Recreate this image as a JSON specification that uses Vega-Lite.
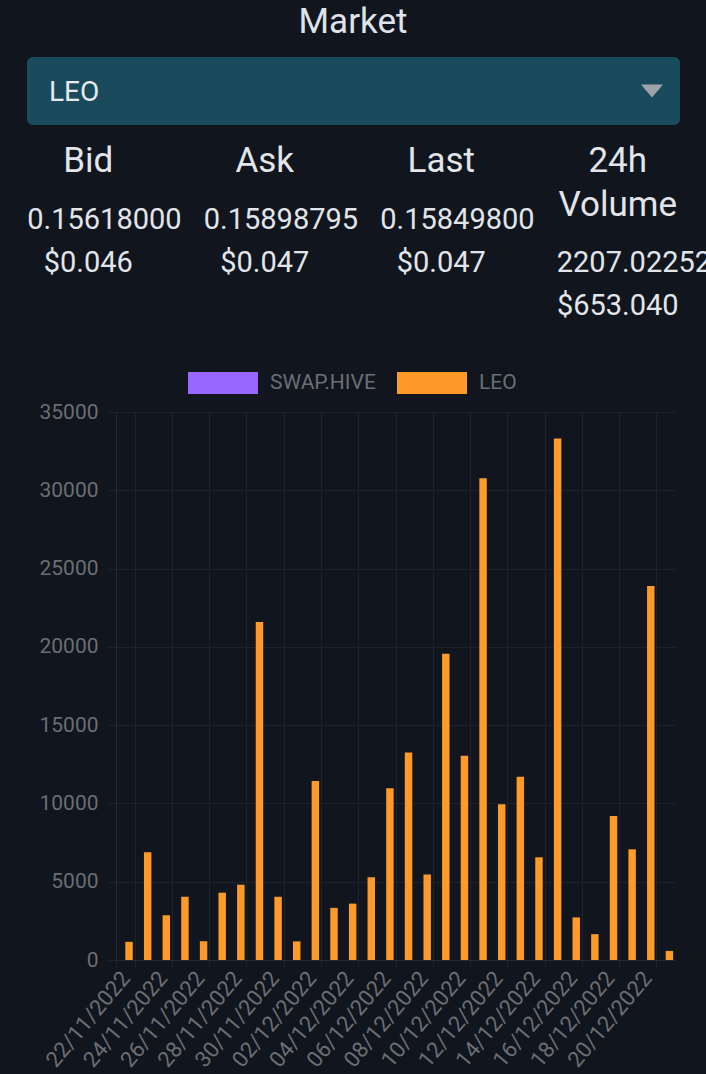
{
  "$schema": "https://vega.github.io/schema/vega-lite/v6.json",
  "width": 559,
  "height": 548,
  "autosize": {"type": "none"},
  "padding": {"left": 116, "top": 412, "right": 31, "bottom": 114},
  "background": "#10151e",
  "config": {
    "view": {"stroke": null},
    "font": "Roboto"
  },
  "datasets": {
    "market": [{"market": "LEO", "page": "Market"}],
    "stats": [
      {"col": "Bid", "header": "Bid", "headerLines": 1, "price": "0.15618000", "usd": "$0.046"},
      {"col": "Ask", "header": "Ask", "headerLines": 1, "price": "0.15898795", "usd": "$0.047"},
      {"col": "Last", "header": "Last", "headerLines": 1, "price": "0.15849800", "usd": "$0.047"},
      {"col": "Volume", "header": "24h\nVolume", "headerLines": 2, "price": "2207.02252", "usd": "$653.040"}
    ],
    "volume": [
      {"date": "22/11/2022", "token": "LEO", "volume": 1160},
      {"date": "23/11/2022", "token": "LEO", "volume": 6880},
      {"date": "24/11/2022", "token": "LEO", "volume": 2860},
      {"date": "25/11/2022", "token": "LEO", "volume": 4040},
      {"date": "26/11/2022", "token": "LEO", "volume": 1200},
      {"date": "27/11/2022", "token": "LEO", "volume": 4300},
      {"date": "28/11/2022", "token": "LEO", "volume": 4810},
      {"date": "29/11/2022", "token": "LEO", "volume": 21580},
      {"date": "30/11/2022", "token": "LEO", "volume": 4040},
      {"date": "01/12/2022", "token": "LEO", "volume": 1190},
      {"date": "02/12/2022", "token": "LEO", "volume": 11440},
      {"date": "03/12/2022", "token": "LEO", "volume": 3330},
      {"date": "04/12/2022", "token": "LEO", "volume": 3600},
      {"date": "05/12/2022", "token": "LEO", "volume": 5280},
      {"date": "06/12/2022", "token": "LEO", "volume": 10970},
      {"date": "07/12/2022", "token": "LEO", "volume": 13250},
      {"date": "08/12/2022", "token": "LEO", "volume": 5460},
      {"date": "09/12/2022", "token": "LEO", "volume": 19560},
      {"date": "10/12/2022", "token": "LEO", "volume": 13050},
      {"date": "11/12/2022", "token": "LEO", "volume": 30770},
      {"date": "12/12/2022", "token": "LEO", "volume": 9950},
      {"date": "13/12/2022", "token": "LEO", "volume": 11700},
      {"date": "14/12/2022", "token": "LEO", "volume": 6560},
      {"date": "15/12/2022", "token": "LEO", "volume": 33300},
      {"date": "16/12/2022", "token": "LEO", "volume": 2720},
      {"date": "17/12/2022", "token": "LEO", "volume": 1650},
      {"date": "18/12/2022", "token": "LEO", "volume": 9190},
      {"date": "19/12/2022", "token": "LEO", "volume": 7070},
      {"date": "20/12/2022", "token": "LEO", "volume": 23880},
      {"date": "21/12/2022", "token": "LEO", "volume": 580}
    ]
  },
  "layer": [
    {
      "data": {"name": "volume"},
      "mark": {"type": "bar"},
      "encoding": {
        "x": {
          "field": "date", "type": "ordinal", "sort": null,
          "scale": {"paddingInner": 0, "paddingOuter": 0},
          "axis": {
            "title": null,
            "values": ["22/11/2022", "24/11/2022", "26/11/2022", "28/11/2022", "30/11/2022", "02/12/2022", "04/12/2022", "06/12/2022", "08/12/2022", "10/12/2022", "12/12/2022", "14/12/2022", "16/12/2022", "18/12/2022", "20/12/2022"],
            "labelAngle": -50, "labelAlign": "right", "labelBaseline": "middle",
            "labelFont": "Roboto", "labelFontSize": 22, "labelColor": "#6b6e73",
            "labelPadding": 6, "tickSize": 8, "tickColor": "#1d232e", "tickBand": "extent",
            "grid": true, "gridColor": "#1d232e", "domainColor": "#252b36", "labelOverlap": false
          }
        },
        "xOffset": {
          "field": "token", "type": "nominal",
          "scale": {"domain": ["SWAP.HIVE", "LEO"], "paddingInner": 0, "paddingOuter": 0.25}
        },
        "y": {
          "field": "volume", "type": "quantitative",
          "scale": {"domain": [0, 35000], "nice": false},
          "axis": {
            "title": null, "format": "d",
            "values": [0, 5000, 10000, 15000, 20000, 25000, 30000, 35000],
            "labelFont": "Roboto", "labelFontSize": 21, "labelColor": "#6b6e73",
            "labelPadding": 10, "tickSize": 8, "tickColor": "#1d232e",
            "grid": true, "gridColor": "#1d232e", "domainColor": "#252b36"
          }
        },
        "color": {
          "field": "token", "type": "nominal",
          "scale": {"domain": ["SWAP.HIVE", "LEO"], "range": ["#9966ff", "#fd9a28"]},
          "legend": {
            "orient": "none", "legendX": 72, "legendY": -64, "direction": "horizontal",
            "title": null, "padding": 0,
            "symbolType": "M-1,-0.314H1V0.314H-1Z", "symbolSize": 4900,
            "symbolStrokeWidth": 0, "symbolOpacity": 1,
            "labelFont": "Roboto", "labelFontSize": 21, "labelColor": "#6b6e73",
            "labelOffset": 12, "columnPadding": 21
          }
        }
      }
    },
    {
      "data": {"name": "market"},
      "mark": {"type": "text", "font": "Roboto", "fontSize": 35, "color": "#dfe3e9", "baseline": "alphabetic", "align": "center"},
      "encoding": {
        "text": {"field": "page"},
        "x": {"field": "page", "type": "nominal", "scale": {"type": "band", "range": [-116, 590], "padding": 0}, "axis": null},
        "y": {"field": "page", "type": "nominal", "scale": {"type": "band", "range": [-412, -346], "padding": 0}, "axis": null}
      }
    },
    {
      "data": {"name": "market"},
      "mark": {"type": "rect", "color": "#1a4b5c", "cornerRadius": 6},
      "encoding": {
        "x": {"field": "market", "type": "nominal", "scale": {"type": "band", "range": [-89, 564], "padding": 0}, "axis": null},
        "y": {"field": "market", "type": "nominal", "scale": {"type": "band", "range": [-355, -287], "padding": 0}, "axis": null}
      }
    },
    {
      "data": {"name": "market"},
      "mark": {"type": "text", "font": "Roboto", "fontSize": 28, "color": "#e6e9ee", "baseline": "alphabetic", "align": "left", "dx": 22, "dy": 10},
      "encoding": {
        "text": {"field": "market"},
        "x": {"field": "market", "type": "nominal", "bandPosition": 0, "scale": {"type": "band", "range": [-89, 564], "padding": 0}, "axis": null},
        "y": {"field": "market", "type": "nominal", "scale": {"type": "band", "range": [-355, -287], "padding": 0}, "axis": null}
      }
    },
    {
      "data": {"name": "market"},
      "mark": {"type": "point", "shape": "M-1,-0.6L1,-0.6L0,0.6Z", "size": 484, "filled": true, "color": "#9ea3a8", "opacity": 1, "xOffset": -28},
      "encoding": {
        "x": {"field": "market", "type": "nominal", "bandPosition": 1, "scale": {"type": "band", "range": [-89, 564], "padding": 0}, "axis": null},
        "y": {"field": "market", "type": "nominal", "scale": {"type": "band", "range": [-355, -287], "padding": 0}, "axis": null}
      }
    },
    {
      "data": {"name": "stats"},
      "mark": {"type": "text", "font": "Roboto", "fontSize": 35, "color": "#e2e5ea", "baseline": "alphabetic", "align": "center", "lineBreak": "\n", "lineHeight": 44},
      "encoding": {
        "text": {"field": "header"},
        "x": {"field": "col", "type": "nominal", "sort": null, "scale": {"type": "band", "domain": ["Bid", "Ask", "Last", "Volume"], "range": [-116, 590], "padding": 0}, "axis": null},
        "y": {"field": "headerLines", "type": "quantitative", "scale": {"domain": [1, 2], "range": [-240, -240], "nice": false, "zero": false}, "axis": null}
      }
    },
    {
      "data": {"name": "stats"},
      "mark": {"type": "text", "font": "Roboto", "fontSize": 29, "color": "#e2e5ea", "baseline": "alphabetic", "align": "left", "dx": -61},
      "encoding": {
        "text": {"field": "price"},
        "x": {"field": "col", "type": "nominal", "sort": null, "scale": {"type": "band", "domain": ["Bid", "Ask", "Last", "Volume"], "range": [-116, 590], "padding": 0}, "axis": null},
        "y": {"field": "headerLines", "type": "quantitative", "scale": {"domain": [1, 2], "range": [-183, -140], "nice": false, "zero": false}, "axis": null}
      }
    },
    {
      "data": {"name": "stats"},
      "mark": {"type": "text", "font": "Roboto", "fontSize": 29, "color": "#e2e5ea", "baseline": "alphabetic", "align": "center"},
      "encoding": {
        "text": {"field": "usd"},
        "x": {"field": "col", "type": "nominal", "sort": null, "scale": {"type": "band", "domain": ["Bid", "Ask", "Last", "Volume"], "range": [-116, 590], "padding": 0}, "axis": null},
        "y": {"field": "headerLines", "type": "quantitative", "scale": {"domain": [1, 2], "range": [-140, -97], "nice": false, "zero": false}, "axis": null}
      }
    }
  ],
  "resolve": {"scale": {"x": "independent", "y": "independent", "color": "independent"}}
}
